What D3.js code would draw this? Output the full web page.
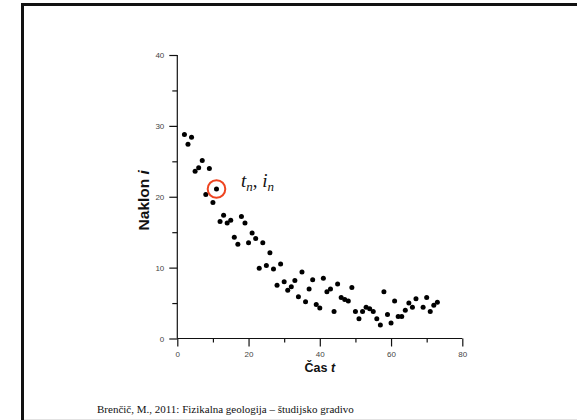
<!DOCTYPE html>
<html>
<head>
<meta charset="utf-8">
<script src="https://cdn.jsdelivr.net/npm/d3@7"></script>
<style>
  html, body { margin: 0; padding: 0; background: #fff; }
  svg { display: block; }
</style>
</head>
<body>
<svg id="chart" width="577" height="420"></svg>
<script>
// Time steps (t) and measured slope (i)
const time = [2, 3, 4, 5, 6, 7, 8, 9, 10, 11, 12, 13, 14, 15, 16, 17, 18, 19, 20,
  21, 22, 23, 24, 25, 26, 27, 28, 29, 30, 31, 32, 33, 34, 35, 36, 37, 38, 39, 40,
  41, 42, 43, 44, 45, 46, 47, 48, 49, 50, 51, 52, 53, 54, 55, 56, 57, 58, 59, 60,
  61, 62, 63, 64, 65, 66, 67, 69, 70, 71, 72, 73];
const slope = [28.8, 27.4, 28.4, 23.6, 24.1, 25.1, 20.3, 24.0, 19.2, 21.1, 16.5, 17.4, 16.3, 16.7, 14.3, 13.3, 17.2, 16.3, 13.5,
  14.9, 14.1, 9.9, 13.5, 10.3, 12.1, 9.8, 7.5, 10.5, 8.0, 6.8, 7.3, 8.2, 5.9, 9.4, 5.2, 7.0, 8.3, 4.8, 4.3,
  8.5, 6.6, 7.0, 3.8, 7.7, 5.8, 5.5, 5.3, 7.2, 3.8, 2.8, 3.8, 4.4, 4.2, 3.8, 2.8, 1.9, 6.6, 3.4, 2.2,
  5.3, 3.1, 3.1, 4.0, 5.0, 4.4, 5.6, 4.4, 5.8, 3.8, 4.7, 5.1];

const xMajorTicks = [0, 20, 40, 60, 80];
const xMinorTicks = [10, 30, 50, 70];
const yMajorTicks = [0, 10, 20, 30, 40];
const yMinorTicks = [5, 15, 25, 35];

// Highlighted sample (t_n, i_n)
const highlightIndex = 9;
const annotationLabel = ["t", "n", ", ", "i", "n"];
const xTitle = "Čas ";
const xTitleVar = "t";
const yTitle = "Naklon ";
const yTitleVar = "i";
const footer = "Brenčič, M., 2011: Fizikalna geologija – študijsko gradivo";

const svg = d3.select("#chart");

// Slide frame
svg.append("rect").attr("x", 0).attr("y", 0).attr("width", 577).attr("height", 420).attr("fill", "#fff");
svg.append("line").attr("x1", 21).attr("x2", 577).attr("y1", 4.5).attr("y2", 4.5)
  .attr("stroke", "#111").attr("stroke-width", 3);
svg.append("line").attr("x1", 22.5).attr("x2", 22.5).attr("y1", 3).attr("y2", 420)
  .attr("stroke", "#111").attr("stroke-width", 3);
svg.append("line").attr("x1", 24).attr("x2", 577).attr("y1", 419.5).attr("y2", 419.5)
  .attr("stroke", "#e2e2e2").attr("stroke-width", 1);

const x = d3.scaleLinear().domain([0, 80]).range([177.3, 462.3]);
const y = d3.scaleLinear().domain([0, 40]).range([338.5, 55]);

const axisFont = "Arial, 'Liberation Sans', Helvetica, sans-serif";

// X axis: major ticks with labels, minor ticks without
const gx = svg.append("g").attr("transform", `translate(0,${y(0)})`);
gx.call(d3.axisBottom(x).tickValues(xMajorTicks).tickSize(8).tickPadding(5).tickFormat(d3.format("d")));
gx.append("g").call(d3.axisBottom(x).tickValues(xMinorTicks).tickSize(4).tickFormat(""))
  .select(".domain").remove();
gx.selectAll(".domain").attr("d", `M${x(0)},0H${x(80)}`);

// Y axis
const gy = svg.append("g").attr("transform", `translate(${x(0)},0)`);
gy.call(d3.axisLeft(y).tickValues(yMajorTicks).tickSize(8).tickPadding(5).tickFormat(d3.format("d")));
gy.append("g").call(d3.axisLeft(y).tickValues(yMinorTicks).tickSize(5).tickFormat(""))
  .select(".domain").remove();
gy.selectAll(".domain").attr("d", `M0,${y(0)}V${y(40)}`);

svg.selectAll(".domain, .tick line").attr("stroke", "#111").attr("stroke-width", 1.2);
svg.selectAll(".tick text").attr("font-family", axisFont).attr("font-size", 8).attr("fill", "#444");

// Axis titles
const xt = svg.append("text")
  .attr("x", x(40)).attr("y", 372)
  .attr("text-anchor", "middle")
  .attr("font-family", axisFont).attr("font-weight", "bold").attr("font-size", 12.5).attr("fill", "#111");
xt.append("tspan").text(xTitle);
xt.append("tspan").attr("font-style", "italic").text(xTitleVar);

const yt = svg.append("text")
  .attr("transform", `translate(149,${y(19.5)}) rotate(-90)`)
  .attr("text-anchor", "middle")
  .attr("font-family", axisFont).attr("font-weight", "bold").attr("font-size", 15.5).attr("fill", "#111");
yt.append("tspan").text(yTitle);
yt.append("tspan").attr("font-style", "italic").text(yTitleVar);

// Data points
const data = time.map((t, k) => ({ t, i: slope[k] }));
svg.append("g").selectAll("circle").data(data).join("circle")
  .attr("cx", d => x(d.t)).attr("cy", d => y(d.i)).attr("r", 2.5).attr("fill", "#000");

// Highlight ring around the selected sample
const hp = data[highlightIndex];
svg.append("circle")
  .attr("cx", x(hp.t)).attr("cy", y(hp.i)).attr("r", 8.8)
  .attr("fill", "none").attr("stroke", "#ee4420").attr("stroke-width", 2);

// Annotation t_n, i_n
const ann = svg.append("text")
  .attr("x", x(hp.t) + 24.5).attr("y", y(hp.i) - 2)
  .attr("font-family", "'Liberation Serif', 'Times New Roman', serif")
  .attr("font-style", "italic").attr("font-size", 19).attr("fill", "#111");
ann.append("tspan").text(annotationLabel[0]);
ann.append("tspan").attr("font-size", 13).attr("dy", 4).text(annotationLabel[1]);
ann.append("tspan").attr("dy", -4).attr("font-style", "normal").text(annotationLabel[2]);
ann.append("tspan").text(annotationLabel[3]);
ann.append("tspan").attr("font-size", 13).attr("dy", 4).text(annotationLabel[4]);

// Footer citation
svg.append("text")
  .attr("x", 97).attr("y", 413)
  .attr("font-family", "'Liberation Serif', 'Times New Roman', serif")
  .attr("font-size", 11).attr("fill", "#111")
  .text(footer);
</script>
</body>
</html>
